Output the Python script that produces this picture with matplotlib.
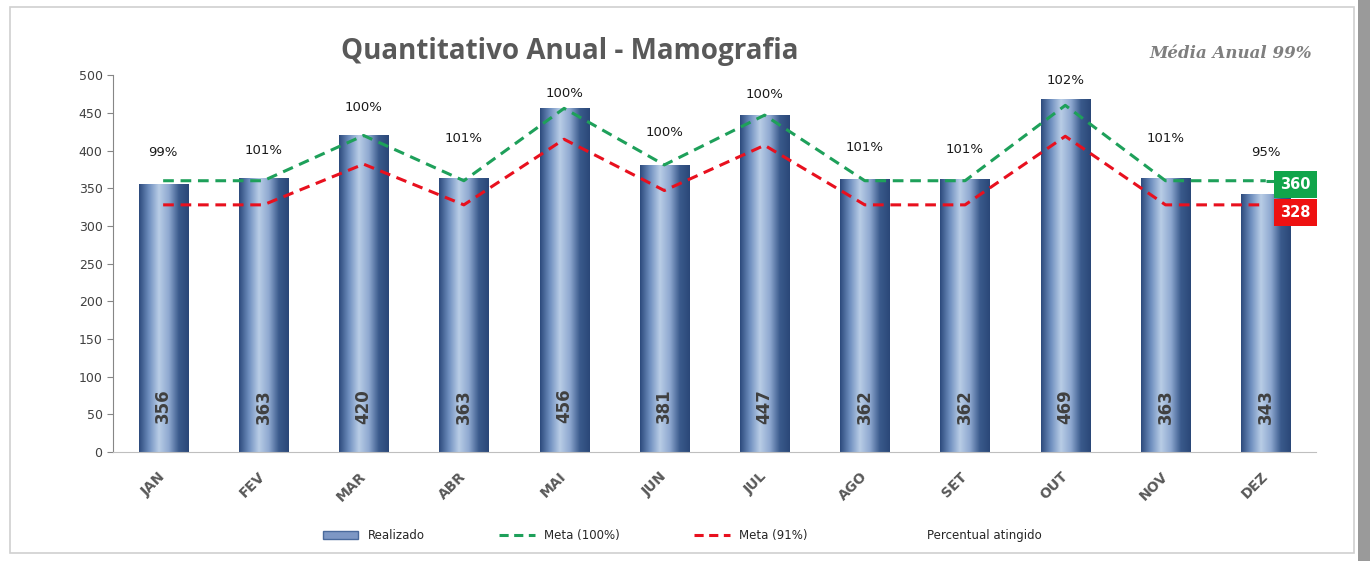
import numpy as np
import matplotlib
matplotlib.use("Agg")
import matplotlib.pyplot as plt
from matplotlib.colors import LinearSegmentedColormap
from matplotlib.lines import Line2D
from matplotlib.patches import Rectangle

# dados
meses = ["JAN", "FEV", "MAR", "ABR", "MAI", "JUN", "JUL", "AGO", "SET", "OUT", "NOV", "DEZ"]
realizado = [356, 363, 420, 363, 456, 381, 447, 362, 362, 469, 363, 343]
meta_100 = [360, 360, 420, 360, 456, 381, 447, 360, 360, 460, 360, 360]
meta_91 = [328, 328, 382, 328, 415, 347, 407, 328, 328, 419, 328, 328]
percentual = ["99%", "101%", "100%", "101%", "100%", "100%", "100%", "101%", "101%", "102%", "101%", "95%"]
# serie "Percentual atingido" (invisivel, so os rotulos)
percentual_pos = [398, 400, 457, 416, 476, 424, 475, 404, 402, 493, 416, 397]
media_anual = "Média Anual 99%"

plt.rcParams['font.family'] = ['DejaVu Sans']

fig = plt.figure(figsize=(13.7, 5.61), dpi=100)
ax = fig.add_axes([0.0825, 0.194, 0.878, 0.672])

x = np.arange(len(meses))
bars = ax.bar(x, realizado, width=0.49, color='none', zorder=2)

# gradiente das barras
cmap = LinearSegmentedColormap.from_list(
    "barra", ["#2c4a7c", "#6f8fbf", "#b9cde6", "#8ea8d0", "#3a5a8c", "#2a4778"])
grad = np.linspace(0, 1, 256).reshape(1, -1)
for b in bars:
    im = ax.imshow(grad, cmap=cmap, aspect='auto', zorder=2,
                   extent=[b.get_x(), b.get_x() + b.get_width(), 0, b.get_height()])
    im.set_clip_path(b)

ax.plot(x, meta_100, color='#1ea05a', ls=(0, (3.5, 2.2)), lw=2.2, zorder=3)
ax.plot(x, meta_91, color='#e8101e', ls=(0, (3.5, 2.2)), lw=2.2, zorder=3)

for i in range(len(meses)):
    ax.text(x[i], 61, str(realizado[i]), rotation=90, ha='center', va='center',
            fontsize=12, color='#404040', fontweight='bold', zorder=4)
    ax.text(x[i], percentual_pos[i], percentual[i], ha='center', va='center',
            fontsize=9.5, color='#1a1a1a', zorder=4)

# rotulos finais das metas
ax.plot([x[-1], x[-1] + 0.1], [meta_100[-1], meta_100[-1]], color='#1ea05a',
        ls=(0, (3.5, 2.2)), lw=2.2, zorder=3)
ax.annotate(str(meta_100[-1]), xy=(x[-1] + 0.1, meta_100[-1]),
            xytext=(x[-1] + 0.45, meta_100[-1] - 5), textcoords='data',
            ha='right', va='center', fontsize=10.5, color='white', fontweight='bold',
            bbox=dict(boxstyle='square,pad=0.42', fc='#11a54b', ec='none'),
            arrowprops=dict(arrowstyle='-', color='#a0a0a0', lw=0.8), zorder=5)
ax.annotate(str(meta_91[-1]), xy=(x[-1] + 0.45, meta_91[-1] - 10),
            ha='right', va='center', fontsize=10.5, color='white', fontweight='bold',
            bbox=dict(boxstyle='square,pad=0.42', fc='#ee1111', ec='none'), zorder=5)

ax.set_xlim(-0.5, len(meses) - 0.5)
ax.set_ylim(0, 500)
ax.set_yticks(np.arange(0, 501, 50))
ax.set_xticks(x)
ax.set_xticklabels(meses, rotation=45, fontsize=10, fontweight='bold', color='#595959',
                   ha='right', va='center', rotation_mode='anchor')
ax.tick_params(axis='x', length=0, pad=16)
ax.tick_params(axis='y', labelsize=9, colors='#404040', length=4, color='#868686')
for s in ['top', 'right']:
    ax.spines[s].set_visible(False)
ax.spines['left'].set_color('#868686')
ax.spines['bottom'].set_color('#bfbfbf')

fig.text(0.416, 0.908, "Quantitativo Anual - Mamografia", ha='center', va='center',
         fontsize=20, fontweight='bold', color='#595959', family='Open Sans')
fig.text(0.958, 0.905, media_anual, ha='right', va='center', fontsize=12,
         fontweight='bold', style='italic', color='#7f7f7f', family='DejaVu Serif')

# legenda
h_real = Rectangle((0, 0), 1, 1, fc='#7d97c4', ec='#4a6a9c')
h_100 = Line2D([], [], color='#1ea05a', ls=(0, (3, 1.8)), lw=2.2)
h_91 = Line2D([], [], color='#e8101e', ls=(0, (3, 1.8)), lw=2.2)
h_pct = Line2D([], [], color='none')
fig.legend([h_real, h_100, h_91, h_pct],
           ["Realizado", "Meta (100%)", "Meta (91%)", "Percentual atingido"],
           loc='center', bbox_to_anchor=(0.498, 0.045), ncol=4, frameon=False,
           fontsize=8.5, handlelength=3, columnspacing=6.3, labelcolor='#262626')

# moldura
fig.patches.append(Rectangle((0.007, 0.015), 0.981, 0.972, transform=fig.transFigure,
                             fill=False, ec='#d0d0d0', lw=1.2))
fig.patches.append(Rectangle((0.991, 0.0), 0.009, 1.0, transform=fig.transFigure,
                             fc='#9a9a9a', ec='none'))

fig.savefig("out.png", dpi=100)
